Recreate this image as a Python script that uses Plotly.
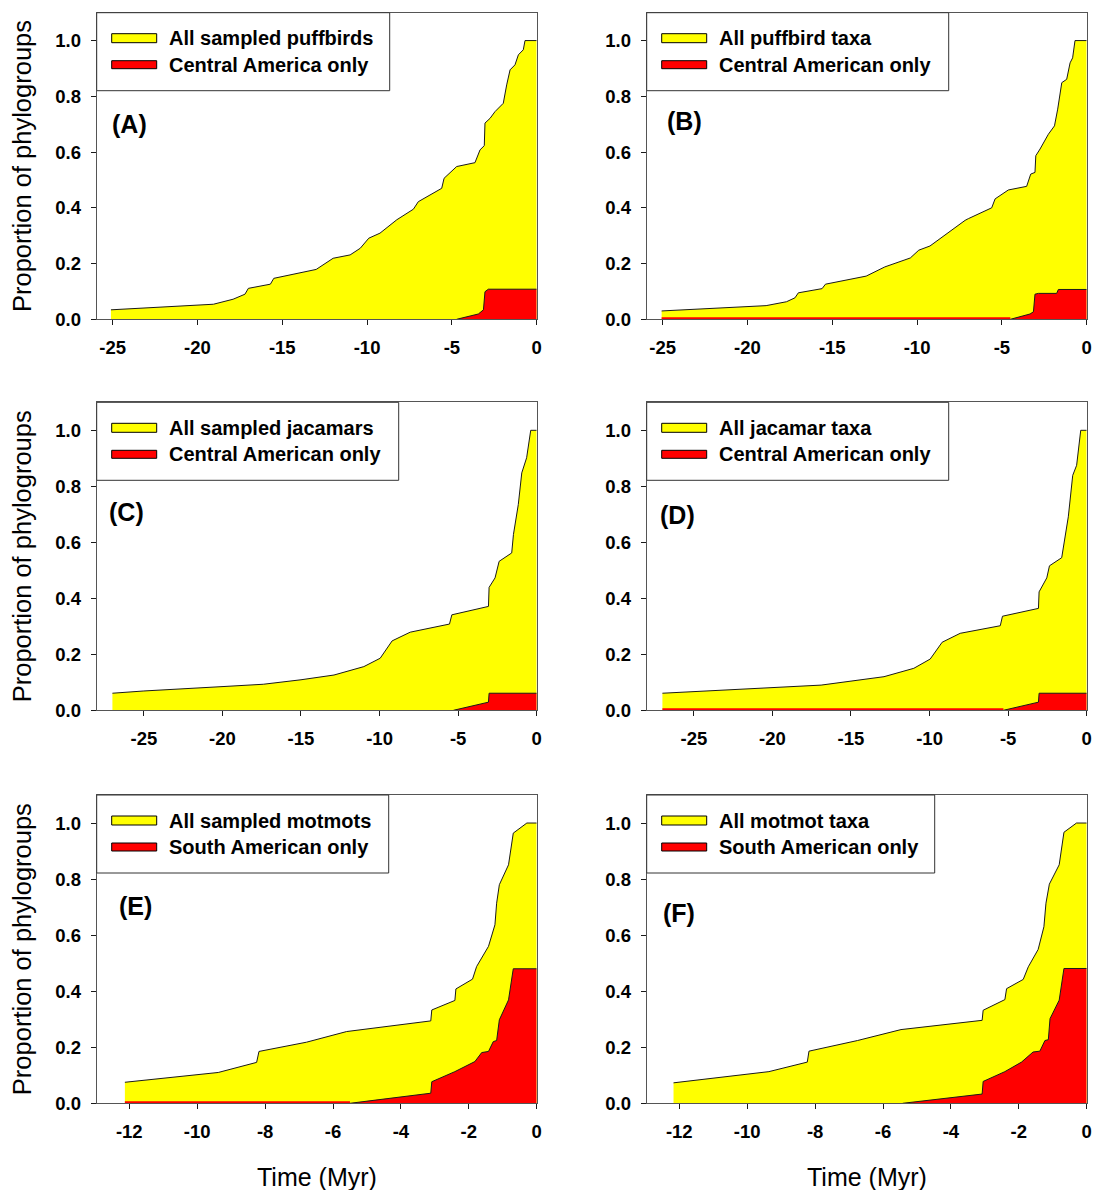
import plotly.graph_objects as go

# ---------------------------------------------------------------------------
# Lineage-through-time curves: cumulative proportion of phylogroups vs time
# ---------------------------------------------------------------------------

# (A) puffbirds, sampled phylogroups
a_all_t = [-25.1, -19.85, -19.06, -17.9, -17.2, -17.0, -15.7, -15.5, -13.0, -12.0, -11.0,
           -10.4, -9.9, -9.24, -8.25, -7.27, -6.98, -5.6, -5.46, -4.72, -3.64, -3.34,
           -3.09, -3.05, -2.75, -2.46, -1.97, -1.77, -1.57, -1.28, -1.08, -0.79, -0.69, 0.0]
a_all_p = [0.034, 0.051, 0.054, 0.072, 0.090, 0.111, 0.126, 0.147, 0.179, 0.219, 0.231,
           0.255, 0.291, 0.309, 0.357, 0.395, 0.422, 0.470, 0.506, 0.548, 0.562, 0.608,
           0.623, 0.704, 0.721, 0.745, 0.775, 0.841, 0.895, 0.913, 0.949, 0.967, 1.0, 1.0]
a_sub_t = [-4.72, -3.44, -3.14, -3.05, -2.85, 0.0]
a_sub_p = [0.0, 0.019, 0.034, 0.099, 0.108, 0.108]

# (B) puffbirds, all taxa
b_all_t = [-25.06, -22.0, -18.9, -17.7, -17.2, -17.0, -15.6, -15.4, -13.0, -11.9, -10.8,
           -10.4, -9.9, -9.24, -7.17, -6.98, -5.6, -5.4, -4.62, -3.54, -3.3, -3.05, -3.0,
           -2.75, -2.26, -1.9, -1.71, -1.47, -1.18, -0.98, -0.83, -0.69, 0.0]
b_all_p = [0.030, 0.039, 0.049, 0.063, 0.077, 0.095, 0.110, 0.126, 0.155, 0.188, 0.212,
           0.220, 0.248, 0.263, 0.355, 0.361, 0.400, 0.432, 0.464, 0.477, 0.521, 0.527,
           0.587, 0.611, 0.664, 0.694, 0.754, 0.849, 0.861, 0.920, 0.938, 1.0, 1.0]
b_sub_t = [-25.06, -4.5, -3.34, -3.14, -3.05, -2.85, -1.77, -1.67, 0.0]
b_sub_p = [0.0, 0.0, 0.019, 0.027, 0.090, 0.093, 0.093, 0.107, 0.107]

# (C) jacamars, sampled phylogroups
c_all_t = [-27.0, -25.0, -19.9, -17.4, -15.0, -12.9, -11.0, -9.96, -9.2, -8.05, -5.55,
           -5.4, -3.07, -3.03, -2.65, -2.39, -1.59, -1.48, -1.17, -0.95, -0.64, -0.38, 0.0]
c_all_p = [0.061, 0.069, 0.085, 0.093, 0.109, 0.126, 0.156, 0.186, 0.248, 0.279, 0.308,
           0.341, 0.371, 0.439, 0.473, 0.532, 0.562, 0.628, 0.735, 0.848, 0.902, 1.0, 1.0]
c_sub_t = [-5.3, -3.07, -3.03, 0.0]
c_sub_p = [0.0, 0.029, 0.061, 0.061]

# (D) jacamars, all taxa
d_all_t = [-27.0, -19.9, -16.9, -12.9, -11.0, -9.96, -9.2, -8.05, -5.5, -5.36, -3.07,
           -3.03, -2.54, -2.37, -1.59, -1.17, -0.89, -0.64, -0.38, 0.0]
d_all_p = [0.061, 0.081, 0.090, 0.120, 0.150, 0.183, 0.243, 0.275, 0.302, 0.336, 0.364,
           0.423, 0.473, 0.516, 0.545, 0.691, 0.839, 0.875, 1.0, 1.0]
d_sub_t = [-27.0, -5.3, -3.07, -3.03, 0.0]
d_sub_p = [0.0, 0.0, 0.029, 0.061, 0.061]

# (E) motmots, sampled phylogroups
e_all_t = [-12.13, -10.02, -9.38, -8.25, -8.18, -6.78, -5.6, -3.12, -3.09, -2.41, -2.38,
           -1.89, -1.77, -1.42, -1.23, -1.18, -1.1, -0.83, -0.69, -0.29, 0.0]
e_all_p = [0.075, 0.101, 0.110, 0.146, 0.185, 0.218, 0.256, 0.294, 0.333, 0.367, 0.408,
           0.443, 0.488, 0.560, 0.637, 0.714, 0.780, 0.851, 0.964, 1.0, 1.0]
e_sub_t = [-12.13, -5.5, -5.0, -3.12, -3.09, -2.41, -1.82, -1.62, -1.42, -1.28, -1.18,
           -1.1, -0.83, -0.69, 0.0]
e_sub_p = [0.0, 0.0, 0.008, 0.036, 0.077, 0.113, 0.149, 0.181, 0.185, 0.220, 0.224,
           0.298, 0.369, 0.480, 0.480]

# (F) motmots, all taxa
f_all_t = [-12.17, -9.36, -8.23, -8.18, -6.75, -5.47, -3.08, -3.05, -2.41, -2.36, -1.87,
           -1.72, -1.43, -1.26, -1.2, -1.1, -0.81, -0.67, -0.3, 0.0]
f_all_p = [0.073, 0.113, 0.147, 0.186, 0.224, 0.263, 0.296, 0.332, 0.370, 0.409, 0.442,
           0.487, 0.549, 0.630, 0.714, 0.782, 0.851, 0.967, 1.0, 1.0]
f_sub_t = [-5.42, -3.08, -3.05, -2.41, -1.92, -1.58, -1.38, -1.23, -1.13, -1.08, -0.81,
           -0.67, 0.0]
f_sub_p = [0.0, 0.033, 0.078, 0.113, 0.147, 0.183, 0.186, 0.224, 0.227, 0.302, 0.368,
           0.481, 0.481]

panel_tags = ["(A)", "(B)", "(C)", "(D)", "(E)", "(F)"]
all_labels = ["All sampled puffbirds", "All puffbird taxa", "All sampled jacamars",
              "All jacamar taxa", "All sampled motmots", "All motmot taxa"]
sub_labels = ["Central America only", "Central American only", "Central American only",
              "Central American only", "South American only", "South American only"]

# time-axis ticks (plain hyphen-minus labels)
ticks_long = [-25, -20, -15, -10, -5, 0]
ticks_long_text = ["-25", "-20", "-15", "-10", "-5", "0"]
ticks_short = [-12, -10, -8, -6, -4, -2, 0]
ticks_short_text = ["-12", "-10", "-8", "-6", "-4", "-2", "0"]
y_ticks = [0.0, 0.2, 0.4, 0.6, 0.8, 1.0]
y_ticks_text = ["0.0", "0.2", "0.4", "0.6", "0.8", "1.0"]

y_title = "Proportion of phylogroups"
x_title = "Time (Myr)"

# ---------------------------------------------------------------------------
# Layout geometry (pixels)
# ---------------------------------------------------------------------------
W, H = 1099, 1190
COLS = [(96.7, 536.7), (646.7, 1086.7)]
ROWS = [(12.7, 319.3), (402.3, 710.3), (795.0, 1103.3)]
X_RANGES = [[-25.94, 0], [-25.94, 0], [-28.0, 0], [-28.0, 0], [-12.96, 0], [-12.96, 0]]
LEGEND_W = [293, 302, 302, 302, 292, 288]
TAG_POS = [(33, 111), (38, 108), (30, 110), (31, 113), (39, 111), (32, 118)]

YELLOW = "#FFFF00"
RED = "#FF0000"
EDGE = "#1a1a1a"
FRAME = "#555555"
FONT = "Liberation Sans, Arial, sans-serif"

series = [
    (a_all_t, a_all_p, a_sub_t, a_sub_p),
    (b_all_t, b_all_p, b_sub_t, b_sub_p),
    (c_all_t, c_all_p, c_sub_t, c_sub_p),
    (d_all_t, d_all_p, d_sub_t, d_sub_p),
    (e_all_t, e_all_p, e_sub_t, e_sub_p),
    (f_all_t, f_all_p, f_sub_t, f_sub_p),
]

fig = go.Figure()
shapes = []
annotations = []
layout_axes = {}

for i, (at, ap, st, sp) in enumerate(series):
    r, c = divmod(i, 2)
    xs = "" if i == 0 else str(i + 1)
    xa, ya = "x" + xs, "y" + xs
    (x0p, x1p), (y0p, y1p) = COLS[c], ROWS[r]
    pw, ph = x1p - x0p, y1p - y0p

    if r < 2:
        tv, tt = ticks_long, ticks_long_text
    else:
        tv, tt = ticks_short, ticks_short_text

    layout_axes["xaxis" + xs] = dict(
        domain=[x0p / W, x1p / W], anchor=ya, range=X_RANGES[i],
        tickvals=tv, ticktext=tt, ticks="outside", ticklen=5, tickwidth=1,
        tickcolor=EDGE, showline=True, mirror=True, linecolor=FRAME, linewidth=1,
        showgrid=False, zeroline=False, automargin=False, ticklabelstandoff=6,
        tickfont=dict(family=FONT, size=18.5, color="black", weight="bold"),
    )
    layout_axes["yaxis" + xs] = dict(
        domain=[1 - y1p / H, 1 - y0p / H], anchor=xa, range=[0, 1.1],
        tickvals=y_ticks, ticktext=y_ticks_text, ticks="outside", ticklen=5,
        tickwidth=1, tickcolor=EDGE, showline=True, mirror=True, linecolor=FRAME,
        linewidth=1, showgrid=False, zeroline=False, automargin=False,
        ticklabelstandoff=6,
        tickfont=dict(family=FONT, size=18.5, color="black", weight="bold"),
    )

    # yellow area: all lineages
    fig.add_trace(go.Scatter(x=at, y=ap, mode="lines", line=dict(width=0),
                             fill="tozeroy", fillcolor=YELLOW, hoverinfo="skip",
                             showlegend=False, xaxis=xa, yaxis=ya))
    fig.add_trace(go.Scatter(x=at, y=ap, mode="lines", line=dict(color=EDGE, width=1),
                             hoverinfo="skip", showlegend=False, xaxis=xa, yaxis=ya))

    # red area: regional subset
    fig.add_trace(go.Scatter(x=st, y=sp, mode="lines", line=dict(width=0),
                             fill="tozeroy", fillcolor=RED, hoverinfo="skip",
                             showlegend=False, xaxis=xa, yaxis=ya))
    k = 0
    while k + 1 < len(sp) and sp[k + 1] == 0:
        k += 1
    if k > 0:
        # flat zero stretch before the first regional lineage appears
        fig.add_trace(go.Scatter(x=st[:k + 1], y=sp[:k + 1], mode="lines",
                                 line=dict(color=RED, width=4), hoverinfo="skip",
                                 showlegend=False, xaxis=xa, yaxis=ya))
    fig.add_trace(go.Scatter(x=st[k:], y=sp[k:], mode="lines",
                             line=dict(color=EDGE, width=1), hoverinfo="skip",
                             showlegend=False, xaxis=xa, yaxis=ya))

    xd, yd = xa + " domain", ya + " domain"

    def fx(px, pw=pw):
        return px / pw

    def fy(px, ph=ph):
        return 1 - px / ph

    # legend frame
    shapes.append(dict(type="rect", xref=xd, yref=yd, x0=0, x1=fx(LEGEND_W[i]),
                       y0=fy(78), y1=1, fillcolor="white",
                       line=dict(color="#333333", width=1), layer="above"))
    # legend swatches
    shapes.append(dict(type="rect", xref=xd, yref=yd, x0=fx(15), x1=fx(60),
                       y0=fy(30), y1=fy(21), fillcolor=YELLOW,
                       line=dict(color="black", width=1), layer="above"))
    shapes.append(dict(type="rect", xref=xd, yref=yd, x0=fx(15), x1=fx(60),
                       y0=fy(56), y1=fy(48), fillcolor=RED,
                       line=dict(color="black", width=1), layer="above"))
    for txt, oy in ((all_labels[i], 25.5), (sub_labels[i], 52)):
        annotations.append(dict(text=txt, xref=xd, yref=yd, x=fx(70), y=fy(oy),
                                xanchor="left", yanchor="middle", showarrow=False,
                                font=dict(family=FONT, size=20, color="black",
                                          weight="bold")))
    tx, ty = TAG_POS[i]
    annotations.append(dict(text=panel_tags[i], xref=xd, yref=yd, x=fx(tx), y=fy(ty),
                            xanchor="center", yanchor="middle", showarrow=False,
                            font=dict(family=FONT, size=25, color="black",
                                      weight="bold")))

    if c == 0:
        annotations.append(dict(text=y_title, xref="paper", yref="paper",
                                x=22 / W, y=1 - (y0p + y1p) / 2 / H, textangle=-90,
                                xanchor="center", yanchor="middle", showarrow=False,
                                font=dict(family=FONT, size=25.5, color="black")))
    if r == 2:
        annotations.append(dict(text=x_title, xref="paper", yref="paper",
                                x=(x0p + x1p) / 2 / W, y=1 - 1177 / H,
                                xanchor="center", yanchor="middle", showarrow=False,
                                font=dict(family=FONT, size=25, color="black")))

fig.update_layout(
    width=W, height=H, margin=dict(l=0, r=0, t=0, b=0),
    paper_bgcolor="white", plot_bgcolor="white",
    shapes=shapes, annotations=annotations, showlegend=False,
    **layout_axes,
)

fig.write_html("out.html")
